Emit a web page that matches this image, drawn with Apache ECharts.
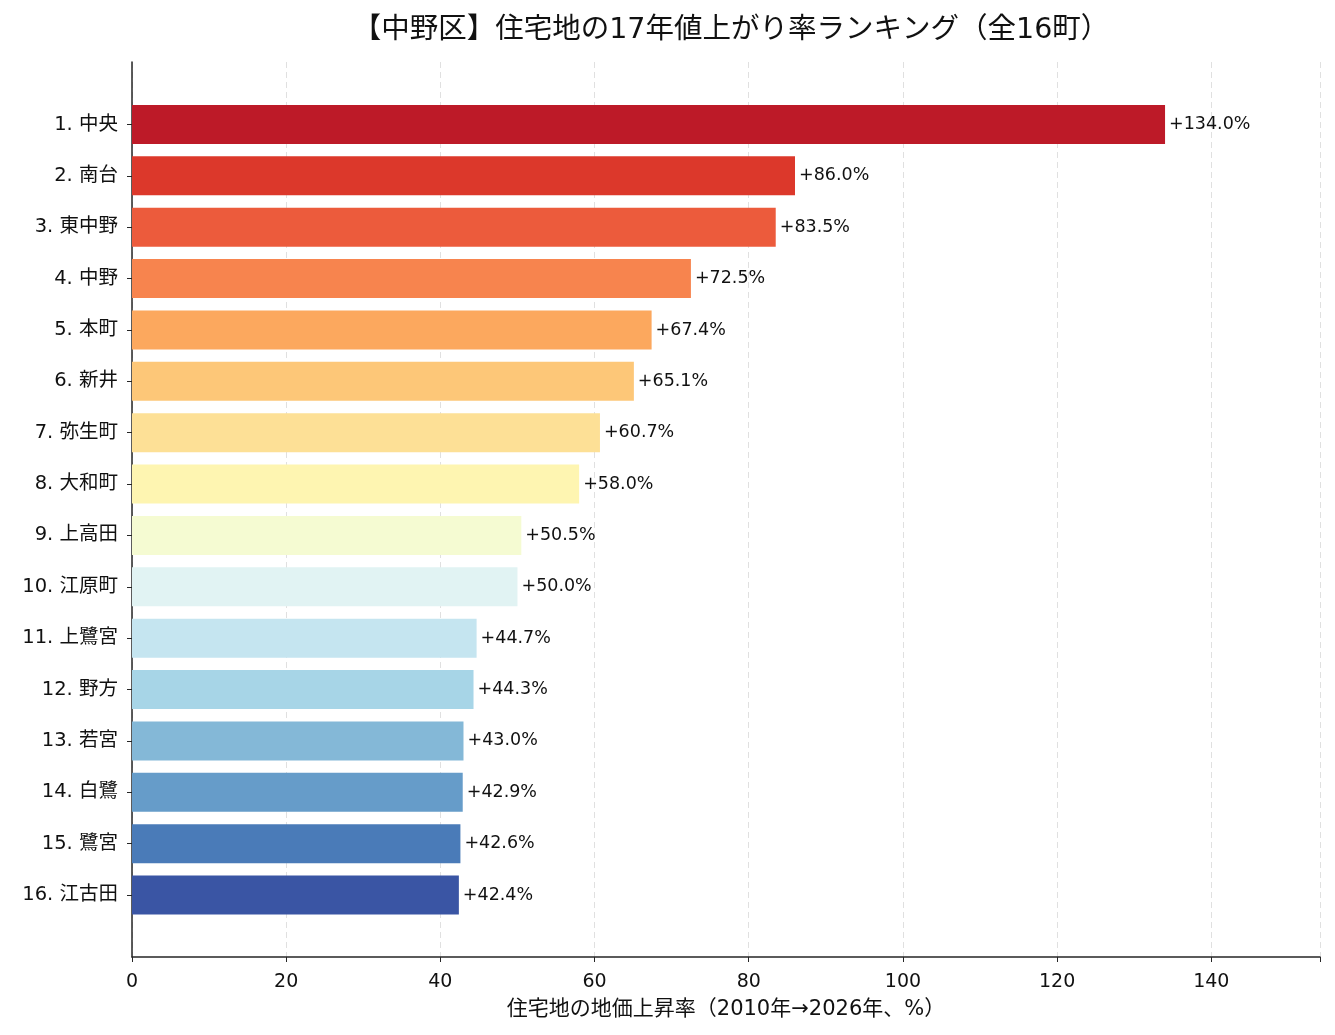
<!DOCTYPE html>
<html>
<head>
<meta charset="utf-8">
<script src="https://cdn.jsdelivr.net/npm/echarts@6/dist/echarts.min.js"></script>
<style>
  html, body { margin: 0; padding: 0; background: #fff; }
  #main { width: 1335px; height: 1035px; }
</style>
</head>
<body>
<div id="main"></div>
<script>
const towns = ['中央', '南台', '東中野', '中野', '本町', '新井', '弥生町', '大和町', '上高田', '江原町', '上鷺宮', '野方', '若宮', '白鷺', '鷺宮', '江古田']
const rates = [134.0, 86.0, 83.5, 72.5, 67.4, 65.1, 60.7, 58.0, 50.5, 50.0, 44.7, 44.3, 43.0, 42.9, 42.6, 42.4]
const barColors = ['#bd1a28', '#dc382b', '#ec5b3c', '#f7844e', '#fca85e', '#fdc778', '#fde096', '#fef5b1',
  '#f5fbd2', '#e1f3f3', '#c5e5f0', '#a7d5e7', '#84b8d7', '#669cc9', '#4a7bb8', '#3a55a4']
const xTicks = [0, 20, 40, 60, 80, 100, 120, 140]

const font = '"DejaVu Sans", "Noto Sans CJK JP", sans-serif'
const labels = towns.map((t, i) => (i + 1) + '. ' + t)
const xMax = 154.1

const chart = echarts.init(document.getElementById('main'), null, { renderer: 'canvas' })

var option = {
  backgroundColor: '#fff',
  animation: false,
  title: {
    text: '【中野区】住宅地の17年値上がり率ランキング（全16町）',
    left: 726,
    textAlign: 'center',
    top: 11,
    textStyle: { fontFamily: font, fontSize: 28.5, fontWeight: 'normal', color: '#111' }
  },
  grid: [
    // frame: spines, ticks, grid lines
    { left: 132, right: 15, top: 62, bottom: 78 },
    // bars
    { left: 132, right: 15, top: 98.8, bottom: 114.3 }
  ],
  xAxis: [{
    gridIndex: 0,
    type: 'value',
    min: 0,
    max: xMax,
    interval: 20,
    name: '住宅地の地価上昇率（2010年→2026年、%）',
    nameLocation: 'middle',
    nameGap: 42,
    nameTextStyle: { fontFamily: font, fontSize: 21, color: '#111' },
    axisLine: { show: true, lineStyle: { color: '#262626', width: 1.5 } },
    axisTick: { show: true, length: 5, lineStyle: { color: '#262626' } },
    axisLabel: {
      fontFamily: font, fontSize: 19, color: '#111', margin: 16,
      formatter: v => (xTicks.indexOf(v) >= 0 ? String(v) : '')
    },
    splitLine: { show: true, lineStyle: { color: '#e0e0e0', type: [6, 4], width: 1 } }
  }, {
    gridIndex: 1,
    type: 'value',
    min: 0,
    max: xMax,
    show: false
  }],
  yAxis: [{
    gridIndex: 0,
    type: 'value',
    min: 0,
    max: 1,
    axisLine: { show: true, lineStyle: { color: '#262626', width: 1.5 } },
    axisTick: { show: false },
    axisLabel: { show: false },
    splitLine: { show: false }
  }, {
    gridIndex: 1,
    type: 'category',
    inverse: true,
    data: labels,
    axisLine: { show: false },
    axisTick: { show: true, alignWithLabel: true, length: 5, lineStyle: { color: '#262626' } },
    axisLabel: { fontFamily: font, fontSize: 19.5, color: '#111', margin: 14 }
  }],
  series: [{
    type: 'bar',
    xAxisIndex: 1,
    yAxisIndex: 1,
    barWidth: '76%',
    data: rates.map((v, i) => ({ value: v, itemStyle: { color: barColors[i] } })),
    label: {
      show: true,
      position: 'right',
      distance: 4,
      fontFamily: font,
      fontSize: 17.5,
      color: '#111',
      formatter: p => '+' + p.value.toFixed(1) + '%'
    }
  }]
}

chart.setOption(option)
</script>
</body>
</html>
